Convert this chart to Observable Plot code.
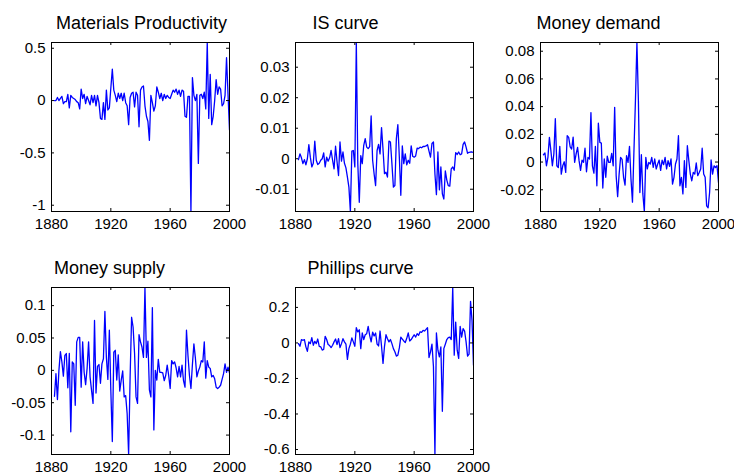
<!DOCTYPE html>
<html>
<head>
<meta charset="utf-8">
<script src="https://cdn.jsdelivr.net/npm/d3@7"></script>
<script src="https://cdn.jsdelivr.net/npm/@observablehq/plot@0.6"></script>
<style>
  body { margin: 0; background: #fff; }
  #fig { position: relative; width: 734px; height: 475px; overflow: hidden; background: #fff; }
  #fig svg { position: absolute; overflow: visible; }
</style>
</head>
<body>
<div id="fig"></div>
<script>
// Annual observations, 1882–2000
const years = d3.range(1882, 2001);

const materialsProductivity = [
  0.00, 0.00, 0.03, 0.00, 0.02, 0.04, -0.03, -0.01,
  -0.01, 0.06, -0.07, 0.05, 0.03, 0.02, 0.01, -0.01, -0.02, -0.08,
  0.11, 0.02, 0.06, -0.03, 0.04, 0.00, -0.04, 0.05, -0.02, 0.05,
  -0.05, 0.05, -0.02, -0.17, -0.18, -0.02, -0.18, 0.10, -0.09, -0.07,
  0.12, 0.30, 0.10, 0.05, -0.01, 0.07, 0.02, 0.07, 0.00, 0.07,
  -0.02, -0.05, -0.23, 0.03, 0.07, 0.08, -0.06, 0.08, 0.05, -0.25,
  0.10, 0.13, 0.14, -0.05, -0.15, -0.20, -0.38, 0.05, -0.02, -0.10,
  -0.05, 0.13, 0.08, 0.02, 0.07, 0.00, 0.06, 0.02, 0.05, 0.03,
  0.02, 0.06, 0.10, 0.08, 0.11, 0.06, 0.10, 0.04, 0.10, 0.09,
  -0.15, -0.16, 0.04, 0.04, -1.06, 0.22, 0.05, 0.00, 0.06, -0.60,
  0.05, 0.06, 0.02, 0.08, -0.08, 0.555, -0.17, 0.25, -0.23, -0.15,
  0.00, 0.20, 0.06, 0.13, 0.11, -0.05, -0.03, 0.05, 0.41, 0.06,
  -0.28
];

const isCurve = [
  -0.0003, 0.0016, 0.0003, -0.0016, -0.0003, -0.0020, 0.0000, 0.0046,
  0.0005, -0.0027, -0.0015, 0.0058, -0.0005, -0.0019, -0.0015, -0.0005, 0.0000, 0.0019,
  -0.0027, 0.0005, -0.0008, 0.0003, 0.0027, -0.0005, -0.0033, 0.0041, -0.0010, -0.0055,
  0.0055, -0.0008, 0.0022, -0.0015, -0.0030, -0.0060, -0.0093, -0.0173, 0.0025, 0.0027,
  -0.0027, 0.0381, -0.0016, -0.0143, 0.0010, -0.0016, 0.0044, 0.0066, 0.0038, 0.0033,
  0.0040, 0.0140, -0.0005, -0.0050, -0.0088, 0.0027, 0.0047, 0.0016, 0.0102, 0.0030,
  -0.0049, -0.0044, -0.0060, 0.0058, 0.0055, -0.0016, -0.0093, -0.0088, 0.0066, 0.0112,
  0.0005, -0.0120, 0.0042, -0.0016, 0.0016, -0.0020, -0.0005, -0.0015, 0.0042, 0.0008,
  0.0005, 0.0009, 0.0035, 0.0033, 0.0038, 0.0036, 0.0040, 0.0040, 0.0042, 0.0046,
  0.0025, 0.0005, 0.0050, 0.0055, -0.0050, -0.0118, 0.0022, -0.0102, -0.0027, -0.0115,
  -0.0132, -0.0040, -0.0070, -0.0088, -0.0090, -0.0033, -0.0027, -0.0038, 0.0020, 0.0014,
  0.0022, 0.0013, 0.0016, 0.0047, 0.0055, 0.0038, 0.0018, 0.0021, 0.0022, 0.0022,
  0.0020
];

const moneyDemand = [
  0.0053, 0.0065, -0.0027, 0.0034, 0.0178, 0.0082, -0.0027, 0.0058,
  0.0313, -0.0027, -0.0040, 0.0113, -0.0087, -0.0027, 0.0002, -0.0075, 0.0190, 0.0178,
  0.0110, 0.0094, 0.0180, -0.0002, 0.0058, 0.0106, 0.0010, -0.0060, 0.0014, -0.0002,
  0.0100, -0.0070, 0.0034, 0.0022, 0.0357, -0.0027, -0.0080, 0.0113, -0.0171, 0.0280,
  0.0142, 0.0137, -0.0188, 0.0022, -0.0110, 0.0043, -0.0002, -0.0002, 0.0063, -0.0027,
  0.0395, -0.0098, -0.0250, -0.0087, 0.0034, 0.0020, -0.0110, -0.0166, 0.0046, -0.0002,
  0.0113, -0.0123, -0.0290, 0.0082, 0.0443, 0.0863, 0.0443, -0.0220, 0.0053, -0.0230,
  -0.0357, 0.0034, -0.0050, -0.0002, -0.0014, 0.0034, -0.0038, 0.0022, -0.0050, -0.0014,
  0.0014, -0.0060, 0.0014, -0.0019, 0.0034, -0.0050, 0.0010, -0.0031, 0.0022, -0.0160,
  -0.0110, -0.0014, 0.0022, 0.0190, -0.0171, -0.0110, -0.0230, 0.0010, -0.0183, 0.0118,
  0.0010, -0.0087, -0.0135, -0.0075, -0.0087, -0.0007, -0.0098, -0.0075, -0.0050, 0.0100,
  -0.0087, -0.0110, -0.0316, -0.0330, -0.0220, 0.0015, -0.0087, -0.0027, -0.0039, -0.0027,
  -0.0147
];

const moneySupply = [
  -0.040, -0.005, -0.045, 0.000, 0.029, 0.013, -0.009, 0.023,
  0.026, -0.027, 0.026, -0.095, 0.013, 0.010, -0.054, 0.044, 0.051, 0.051,
  -0.026, 0.044, -0.003, -0.022, 0.003, 0.044, -0.010, -0.031, -0.051, 0.077,
  -0.035, 0.006, 0.009, -0.020, 0.010, 0.018, 0.091, 0.020, -0.014, 0.062,
  -0.031, -0.110, 0.028, 0.031, -0.015, 0.024, -0.032, -0.015, -0.001, -0.041,
  -0.039, -0.067, -0.130, -0.010, 0.082, 0.067, 0.026, -0.041, -0.051, 0.055,
  0.044, 0.036, 0.020, 0.128, 0.020, 0.045, -0.030, -0.041, 0.097, -0.092,
  0.000, -0.015, 0.017, -0.003, -0.003, -0.004, -0.016, -0.008, 0.008, -0.008,
  -0.028, 0.015, 0.010, 0.013, 0.004, -0.010, 0.006, -0.010, 0.008, -0.016,
  -0.026, 0.062, 0.023, -0.008, -0.028, 0.009, 0.041, 0.019, -0.010, -0.001,
  0.005, 0.015, 0.013, 0.044, -0.012, 0.015, 0.005, 0.003, -0.010, -0.008,
  -0.013, -0.026, -0.028, -0.026, -0.023, -0.014, -0.005, 0.010, -0.003, 0.005,
  -0.004
];

const phillipsCurve = [
  -0.004, -0.019, 0.019, 0.015, 0.019, -0.022, -0.047, 0.006,
  -0.004, 0.030, -0.013, 0.009, -0.004, 0.022, -0.019, -0.022, -0.040, -0.037,
  0.037, 0.019, -0.009, -0.015, -0.026, -0.013, 0.006, 0.022, -0.009, 0.024,
  -0.026, -0.004, 0.024, 0.006, -0.007, -0.093, -0.032, -0.007, 0.028, 0.006,
  -0.019, 0.086, 0.062, 0.074, -0.032, 0.056, 0.019, 0.046, 0.052, 0.093,
  0.043, 0.006, 0.061, 0.039, 0.056, -0.007, -0.017, 0.067, -0.019, -0.115,
  -0.019, 0.046, 0.024, 0.006, 0.019, -0.004, -0.032, -0.050, -0.074, -0.069,
  -0.028, 0.033, 0.022, 0.011, 0.002, 0.026, 0.056, 0.011, 0.019, 0.033,
  0.046, 0.033, 0.052, 0.043, 0.063, 0.060, 0.071, 0.067, 0.076, 0.086,
  -0.082, -0.050, -0.007, -0.134, -0.628, 0.056, -0.041, -0.078, -0.022, -0.385,
  -0.032, -0.007, 0.019, 0.030, 0.033, 0.019, 0.312, -0.069, 0.117, -0.041,
  -0.087, 0.093, 0.033, 0.080, 0.067, 0.006, -0.074, -0.063, 0.234, 0.126,
  -0.125
];

// Tick values
const yearTicks = [1880, 1920, 1960, 2000];
const materialsTicks = [-1, -0.5, 0, 0.5];
const isTicks = [-0.01, 0, 0.01, 0.02, 0.03];
const demandTicks = [-0.02, 0, 0.02, 0.04, 0.06, 0.08];
const supplyTicks = [-0.1, -0.05, 0, 0.05, 0.1];
const phillipsTicks = [-0.6, -0.4, -0.2, 0, 0.2];

const titles = ["Materials Productivity", "IS curve", "Money demand", "Money supply", "Phillips curve"];

// Subplot grid: frame position in the page and title centre offset
const panels = [
  {title: titles[0], values: materialsProductivity, ticks: materialsTicks, left: 51,  top: 42,  h: 169, titleX: 90},
  {title: titles[1], values: isCurve,               ticks: isTicks,        left: 295, top: 42,  h: 169, titleX: 50},
  {title: titles[2], values: moneyDemand,           ticks: demandTicks,    left: 540, top: 42,  h: 169, titleX: 58},
  {title: titles[3], values: moneySupply,           ticks: supplyTicks,    left: 51,  top: 287, h: 167, titleX: 58},
  {title: titles[4], values: phillipsCurve,         ticks: phillipsTicks,  left: 295, top: 287, h: 167, titleX: 65}
];

const W = 178;          // frame width of every subplot
const TICK = 3;         // inward tick length
const font = "'Liberation Sans', Arial, Helvetica, sans-serif";
const fmt = d => String(+d.toFixed(6));

const fig = document.getElementById("fig");

for (const p of panels) {
  const data = years.map((year, i) => ({year, value: p.values[i]}));
  const [lo, hi] = d3.extent(p.values);
  const mL = 50, mT = 42, mR = 14, mB = 34;

  const chart = Plot.plot({
    width: mL + W + mR,
    height: mT + p.h + mB,
    marginLeft: mL, marginTop: mT, marginRight: mR, marginBottom: mB,
    style: {fontFamily: font, fontSize: "15px", color: "#000", background: "transparent", overflow: "visible"},
    x: {domain: [1880, 2000], label: null},
    y: {domain: [lo, hi], label: null},
    marks: [
      Plot.line(data, {x: "year", y: "value", stroke: "#0000ff", strokeWidth: 1.3, clip: true}),
      // inward ticks on all four sides
      Plot.tickX(yearTicks, {x: d => d, insetTop: p.h - TICK, stroke: "#000"}),
      Plot.tickX(yearTicks, {x: d => d, insetBottom: p.h - TICK, stroke: "#000"}),
      Plot.tickY(p.ticks, {y: d => d, insetRight: W - TICK, stroke: "#000"}),
      Plot.tickY(p.ticks, {y: d => d, insetLeft: W - TICK, stroke: "#000"}),
      Plot.frame({stroke: "#000", strokeWidth: 1}),
      Plot.axisX(yearTicks, {tickSize: 0, tickPadding: 7, tickFormat: d => String(d), label: null, fontSize: 15}),
      Plot.axisY(p.ticks, {tickSize: 0, tickPadding: 6, tickFormat: fmt, label: null, fontSize: 15}),
      Plot.text([p.title], {
        frameAnchor: "top-left", dx: p.titleX, dy: -14,
        textAnchor: "middle", lineAnchor: "bottom",
        fontSize: 18, fill: "#000"
      })
    ]
  });
  chart.style.left = (p.left - mL) + "px";
  chart.style.top = (p.top - mT) + "px";
  fig.appendChild(chart);
}
</script>
</body>
</html>
